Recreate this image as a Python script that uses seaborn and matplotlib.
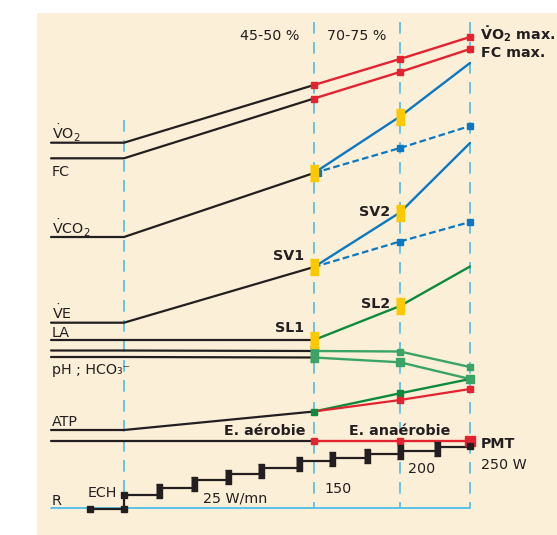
import matplotlib.pyplot as plt
import seaborn as sns

# stage positions along the diagram (rest, warm-up start, SV1, SV2, max)
STAGES = [51, 124, 314, 400, 470]

# curves: vertical position at each stage (diagram rows, top = 0)
VO2 = [142.7, 142.7, 85, 59, 37]
FC = [158.3, 158.3, 98.5, 72, 49]
VCO2 = [237, 237, 173, 116.5, 63]
VCO2_ALT = [173, 148, 126]
VE = [322.7, 322.7, 267, 212.5, 143]
VE_ALT = [267, 241.5, 222]
LA = [340, 340, 340, 306, 266.5]
PH = [350.5, 350.5, 351, 351.5, 367]
HCO3 = [357, 357, 357.5, 362.3, 379]
ATP = [430, 430, 411.5, 393.3, 379]
ATP_ALT = [411.5, 400, 389]
AEROBIC = [440.5, 440.5, 440.5, 440.5, 440.5]

# staircase load test
STEP_X = [124, 159, 194, 228, 261, 299, 332, 367, 400, 437, 470]
STEP_Y = [495, 487.5, 480, 474, 467.5, 460.5, 457.5, 454, 450.5, 446.5, 446]
REST_X = [90, 124, 124]
REST_Y = [509, 509, 495]

VLINE_X = [124, 314, 400, 470]
VLINE_TOP = [120, 22, 22, 22]
BASE_Y = 508

CREAM = "#fcefd8"
BLACK = "#231f20"
RED = "#e42330"
BLUE = "#0a78c2"
GREEN = "#0d8a3b"
GREEN2 = "#3aa366"
YELLOW = "#fcc800"
GUIDE = "#4dbde8"

TALL = [(-0.25, -0.5), (0.25, -0.5), (0.25, 0.5), (-0.25, 0.5)]
SLIM = [(-0.2, -0.5), (0.2, -0.5), (0.2, 0.5), (-0.2, 0.5)]

sns.set_theme(style="white")
plt.rcParams["font.family"] = ["DejaVu Sans"]
plt.rcParams["mathtext.fontset"] = "dejavusans"

fig = plt.figure(figsize=(5.57, 5.35), dpi=100)
ax = fig.add_axes([37 / 557, 0, 520 / 557, 522 / 535])
ax.set_facecolor(CREAM)


def line(xs, ys, color, lw=1.6, **kw):
    sns.lineplot(x=xs, y=ys, color=color, lw=lw, estimator=None,
                 sort=False, ax=ax, legend=False, **kw)


def marks(xs, ys, color, marker="s", size=5, z=5):
    ax.plot(xs, ys, ls="none", marker=marker, ms=size, color=color,
            mec=color, zorder=z)


# guide lines
for x, top in zip(VLINE_X, VLINE_TOP):
    line([x, x], [top, BASE_Y], GUIDE, lw=1.2, linestyle=(0, (7, 5)))
line([STAGES[0], STAGES[-1]], [BASE_Y, BASE_Y], GUIDE, lw=1.3)

# curves: black up to SV1, coloured afterwards
for ys, col in [(VO2, RED), (FC, RED), (VCO2, BLUE), (VE, BLUE),
                (LA, GREEN), (PH, GREEN2), (HCO3, GREEN2), (ATP, GREEN),
                (AEROBIC, RED)]:
    line(STAGES[:3], ys[:3], BLACK)
    line(STAGES[2:], ys[2:], col, lw=1.7)

line(STAGES[2:], VCO2_ALT, BLUE, lw=1.6, linestyle=(0, (3, 1.5)))
line(STAGES[2:], VE_ALT, BLUE, lw=1.6, linestyle=(0, (3, 1.5)))
line(STAGES[2:], ATP_ALT, RED, lw=1.6)

# markers
marks(STAGES[2:], VO2[2:], RED)
marks(STAGES[2:], FC[2:], RED)
marks(STAGES[3:], VCO2_ALT[1:], BLUE, size=4.5)
marks(STAGES[3:], VE_ALT[1:], BLUE, size=4.5)
marks([318], [VCO2_ALT[0]], BLUE, size=4)
marks(STAGES[3:], PH[3:], GREEN2)
marks(STAGES[3:], HCO3[3:], GREEN2, size=6)
marks([STAGES[2]], [(PH[2] + HCO3[2]) / 2], GREEN2, marker=TALL, size=11)
marks(STAGES[2:4], ATP[2:4], GREEN, size=4.5)
marks(STAGES[3:], ATP_ALT[1:], RED, size=5)
marks(STAGES[2:4], AEROBIC[2:4], RED, size=4.5)
marks([STAGES[4]], [AEROBIC[4]], RED, size=6.5)
for ys in (VCO2, VE, LA):
    marks(STAGES[2:4], ys[2:4], YELLOW, marker=TALL, size=11.5, z=6)

# load staircase
line(REST_X, REST_Y, BLACK)
line(STEP_X, STEP_Y, BLACK, drawstyle="steps-post")
marks(REST_X, REST_Y, BLACK, size=4.5)
step_mid = [(a + b) / 2 for a, b in zip(STEP_Y[:-1], STEP_Y[1:])]
marks(STEP_X[1:-1], step_mid[:-1], BLACK, marker=SLIM, size=10)
marks([STEP_X[-1]], [STEP_Y[-1]], BLACK, size=4.5)

# texts
FS = 10.3
texts = [
    (240, 40, "45-50 %", "left", "normal"),
    (327, 40, "70-75 %", "left", "normal"),
    (480, 40, r"$\mathbf{\dot{V}O_2}$ max.", "left", "bold"),
    (481, 56.7, "FC max.", "left", "bold"),
    (52, 140, r"$\dot{\mathrm{V}}\mathrm{O}_2$", "left", "normal"),
    (52, 175.7, "FC", "left", "normal"),
    (52, 234.3, r"$\dot{\mathrm{V}}\mathrm{CO}_2$", "left", "normal"),
    (52, 319, r"$\dot{\mathrm{V}}\mathrm{E}$", "left", "normal"),
    (52, 336.7, "LA", "left", "normal"),
    (52, 374, "pH ; HCO\u2083\u207b", "left", "normal"),
    (52, 425.7, "ATP", "left", "normal"),
    (52, 505, "R", "left", "normal"),
    (304, 260, "SV1", "right", "bold"),
    (390, 216, "SV2", "right", "bold"),
    (304, 331.7, "SL1", "right", "bold"),
    (390, 308.3, "SL2", "right", "bold"),
    (305, 435, "E. a\u00e9robie", "right", "bold"),
    (400, 435, "E. ana\u00e9robie", "center", "bold"),
    (481, 448.3, "PMT", "left", "bold"),
    (481, 469.3, "250 W", "left", "normal"),
    (408, 473.3, "200", "left", "normal"),
    (324, 493.3, "150", "left", "normal"),
    (235, 502.3, "25 W/mn", "center", "normal"),
    (117, 497.3, "ECH", "right", "normal"),
]
for x, y, s, ha, w in texts:
    ax.text(x, y, s, ha=ha, va="baseline", fontsize=FS, fontweight=w,
            color=BLACK, zorder=8)

ax.set_xlim(37, 557)
ax.set_ylim(535, 13)
ax.set_xlabel("")
ax.set_ylabel("")
ax.set_xticks([])
ax.set_yticks([])
for sp in ax.spines.values():
    sp.set_visible(False)

fig.savefig("out.png", dpi=100, facecolor="white")
